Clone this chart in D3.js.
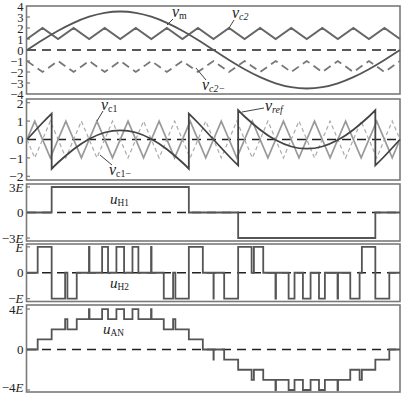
<!DOCTYPE html>
<html><head><meta charset="utf-8">
<script src="https://cdn.jsdelivr.net/npm/d3@7"></script>
<style>
body{margin:0;background:#fff}
svg{display:block}
text{font-family:"Liberation Serif","DejaVu Serif",serif;fill:#222}
</style>
</head><body><div class="svg-container"></div>
<script>
// phase grid in degrees, one fundamental period
const gridDeg = [0,15,30,45,60,75,90,105,120,135,150,165,180,195,210,225,240,255,270,285,300,315,330,345,360];
const vmValues = [0,0.91,1.75,2.47,3.03,3.38,3.5,3.38,3.03,2.47,1.75,0.91,0,-0.91,-1.75,-2.47,-3.03,-3.38,-3.5,-3.38,-3.03,-2.47,-1.75,-0.91,0];
const vc2Values = [1,2,1,2,1,2,1,2,1,2,1,2,1,2,1,2,1,2,1,2,1,2,1,2,1];
const vc2mValues = [-1,-2,-1,-2,-1,-2,-1,-2,-1,-2,-1,-2,-1,-2,-1,-2,-1,-2,-1,-2,-1,-2,-1,-2,-1];

// inner carrier vertices
const vc1Deg = [0,7.5,22.5,37.5,52.5,67.5,82.5,97.5,112.5,127.5,142.5,157.5,172.5,187.5,202.5,217.5,232.5,247.5,262.5,277.5,292.5,307.5,322.5,337.5,352.5,360];
const vc1Values = [0,1,-1,1,-1,1,-1,1,-1,1,-1,1,-1,1,-1,1,-1,1,-1,1,-1,1,-1,1,-1,0];
const vc1mValues = [0,-1,1,-1,1,-1,1,-1,1,-1,1,-1,1,-1,1,-1,1,-1,1,-1,1,-1,1,-1,1,0];

// v_ref pieces [deg, value], jumps between them
const vrefSegs = [
  [[0,0],[15,0.91],[23.8,1.41]],
  [[23.8,-1.59],[30,-1.25],[45,-0.53],[60,0.03],[75,0.38],[90,0.5],[105,0.38],[120,0.03],[135,-0.53],[150,-1.25],[156.2,-1.59]],
  [[156.2,1.41],[165,0.91],[180,0],[195,-0.91],[203.8,-1.41]],
  [[203.8,1.59],[210,1.25],[225,0.53],[240,-0.03],[255,-0.38],[270,-0.5],[285,-0.38],[300,-0.03],[315,0.53],[330,1.25],[336.2,1.59]],
  [[336.2,-1.41],[345,-0.91],[360,0]]
];

// step outputs (switching angles in degrees, levels in E)
const uH1Edges = [0,23.8,156.2,203.8,336.2,360];
const uH1Levels = [0,3,0,-3,0];
const uEdges = [0,10.3,23.8,36.8,39.0,48.0,59.8,60.3,72.5,78.2,86.3,93.7,101.8,107.5,119.7,120.2,132.0,141.0,143.2,156.2,169.7,180.0,180.2,190.3,203.8,216.8,219.0,228.0,239.8,240.3,252.5,258.2,266.3,273.7,281.8,287.5,299.7,300.2,312.0,321.0,323.2,336.2,349.7,360];
const uH2Levels = [0,1,-1,0,-1,0,1,0,1,0,1,0,1,0,1,0,-1,0,-1,1,0,-1,0,-1,1,0,1,0,-1,0,-1,0,-1,0,-1,0,-1,0,-1,0,1,-1,0];
const uANLevels = [0,1,2,3,2,3,4,3,4,3,4,3,4,3,4,3,2,3,2,1,0,-1,0,-1,-2,-3,-2,-3,-4,-3,-4,-3,-4,-3,-4,-3,-4,-3,-2,-3,-2,-1,0];

const width = 402, height = 395;
const svg = d3.select('.svg-container').append('svg')
    .attr('width', width).attr('height', height);

const x = d3.scaleLinear().domain([0, 360]).range([27, 400]);

const num = d => d < 0 ? '\u2212' + (-d) : '' + d;
const panels = [
  {y: d3.scaleLinear().domain([-4, 4]).range([94, 6]), ticks: [4,3,2,1,0,-1,-2,-3,-4], fmt: num, inner: [3,2,1,-1,-2,-3], fs: 12.5},
  {y: d3.scaleLinear().domain([-2.2, 2.2]).range([180, 99]), ticks: [2,1,0,-1,-2], fmt: num, inner: [2,1,-1,-2], fs: 13.5},
  {y: d3.scaleLinear().domain([-3.35, 3.35]).range([241, 184]), ticks: [3,0,-3], fmt: d => d === 0 ? '0' : (d < 0 ? '\u2212' : '') + '3|E', inner: [3,-3], fs: 13},
  {y: d3.scaleLinear().domain([-1.11, 1.11]).range([301.5, 244]), ticks: [1,0,-1], fmt: d => d === 0 ? '0' : (d < 0 ? '\u2212' : '') + '|E', inner: [1,-1], fs: 13},
  {y: d3.scaleLinear().domain([-4.2, 4.4]).range([392, 305]), ticks: [4,0,-4], fmt: d => d === 0 ? '0' : (d < 0 ? '\u2212' : '') + '4|E', inner: [4,-4], fs: 13}
];

const frameColor = '#7a7a7a', waveColor = '#555';

panels.forEach((p, pi) => {
  const [b, t] = p.y.range();
  svg.append('rect')
      .attr('x', 26.5).attr('y', t)
      .attr('width', 373.5).attr('height', b - t)
      .attr('fill', 'none').attr('stroke', frameColor).attr('stroke-width', 1.6);

  // small inward ticks
  svg.selectAll(null).data(p.inner).enter().append('line')
      .attr('x1', 27).attr('x2', 30)
      .attr('y1', d => p.y(d)).attr('y2', d => p.y(d))
      .attr('stroke', frameColor).attr('stroke-width', 1.2);

  const ax = svg.append('g')
      .attr('transform', 'translate(26.5,0)')
      .call(d3.axisLeft(p.y).tickValues(p.ticks).tickSize(0).tickPadding(3));
  ax.select('.domain').remove();
  ax.selectAll('.tick text')
      .attr('font-family', '"Liberation Serif", serif')
      .attr('font-size', p.fs).attr('fill', '#222')
      .each(function(d) {
        const parts = p.fmt(d).split('|');
        const el = d3.select(this).text(parts[0]);
        if (parts[1]) el.append('tspan').attr('font-style', 'italic').text(parts[1]);
        // keep the lowest label inside the page
        if (pi === 4 && d < 0) el.attr('dy', '0.12em');
      });

  // dashed zero line
  svg.append('line')
      .attr('x1', x(0)).attr('x2', x(360))
      .attr('y1', p.y(0)).attr('y2', p.y(0))
      .attr('stroke', '#222').attr('stroke-width', 1.3)
      .attr('stroke-dasharray', '9,6');
});

const [P1, P2, P3, P4, P5] = panels.map(p => p.y);

// panel 1
const lineLin = yy => d3.line().x(d => x(d[0])).y(d => yy(d[1]));
svg.append('path')
    .attr('d', lineLin(P1)(d3.zip(gridDeg, vc2Values)))
    .attr('fill', 'none').attr('stroke', '#666').attr('stroke-width', 2);
svg.append('path')
    .attr('d', lineLin(P1)(d3.zip(gridDeg, vc2mValues)))
    .attr('fill', 'none').attr('stroke', '#777').attr('stroke-width', 1.8)
    .attr('stroke-dasharray', '8,5');
svg.append('path')
    .attr('d', lineLin(P1).curve(d3.curveNatural)(d3.zip(gridDeg, vmValues)))
    .attr('fill', 'none').attr('stroke', waveColor).attr('stroke-width', 1.8);

// panel 2
svg.append('path')
    .attr('d', lineLin(P2)(d3.zip(vc1Deg, vc1mValues)))
    .attr('fill', 'none').attr('stroke', '#aaa').attr('stroke-width', 1.2)
    .attr('stroke-dasharray', '4,3');
svg.append('path')
    .attr('d', lineLin(P2)(d3.zip(vc1Deg, vc1Values)))
    .attr('fill', 'none').attr('stroke', '#999').attr('stroke-width', 1.7);
const refLine = lineLin(P2).curve(d3.curveNatural);
const refPath = vrefSegs.map((s, i) => {
  const d = refLine(s);
  return i === 0 ? d : 'L' + d.slice(1);
}).join('');
svg.append('path')
    .attr('d', refPath)
    .attr('fill', 'none').attr('stroke', '#444').attr('stroke-width', 1.8);

// step panels
const stepLine = yy => d3.line().curve(d3.curveStepAfter).x(d => x(d[0])).y(d => yy(d[1]));
function steps(edges, levels) {
  const pts = levels.map((v, i) => [edges[i], v]);
  pts.push([edges[edges.length - 1], levels[levels.length - 1]]);
  return pts;
}
[[P3, uH1Edges, uH1Levels], [P4, uEdges, uH2Levels], [P5, uEdges, uANLevels]].forEach(([yy, e, l]) => {
  svg.append('path')
      .attr('d', stepLine(yy)(steps(e, l)))
      .attr('fill', 'none').attr('stroke', waveColor).attr('stroke-width', 1.8);
});

// labels
function label(px, py, main, sub, size) {
  const t = svg.append('text').attr('x', px).attr('y', py).attr('font-size', size);
  t.append('tspan').attr('font-style', 'italic').text(main);
  sub.forEach(s => t.append('tspan')
      .attr('font-size', size * 0.62)
      .attr('font-style', s[1] ? 'italic' : 'normal')
      .attr('dy', s[2] || null)
      .text(s[0]));
}
function leader(x1, y1, x2, y2) {
  svg.append('line').attr('x1', x1).attr('y1', y1).attr('x2', x2).attr('y2', y2)
      .attr('stroke', '#444').attr('stroke-width', 1);
}
label(172, 17, 'v', [['m', false, 2]], 16);
leader(173, 19, 167, 25);
label(232, 18, 'v', [['c2', true, 2]], 16);
leader(234, 20, 229, 28);
label(202, 90, 'v', [['c2\u2212', true, 2]], 16);
leader(206, 80, 196, 68);

label(101, 110, 'v', [['c1', false, 2]], 16);
leader(103, 111, 97, 121);
label(265, 111, 'v', [['ref', true, 2]], 16);
leader(264, 108, 242, 112);
label(109, 175, 'v', [['c1\u2212', false, 2]], 16);
leader(112, 165, 100, 155);

label(110, 204, 'u', [['H1', false, 2]], 15);
label(110, 288, 'u', [['H2', false, 2]], 15);
label(103, 334, 'u', [['AN', false, 2]], 15);
</script></body></html>
